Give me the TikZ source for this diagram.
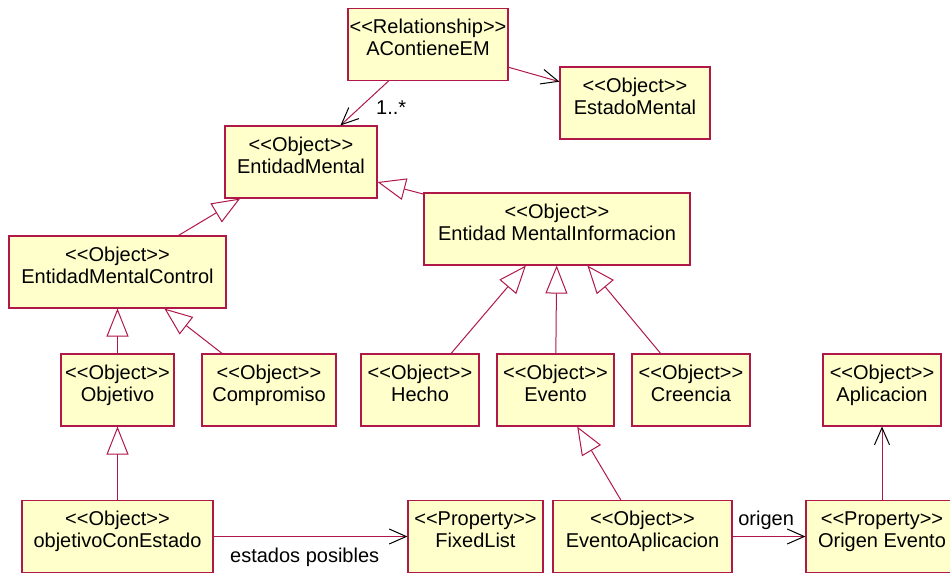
\documentclass[tikz,border=0pt]{standalone}
\usepackage{fontspec}
\setmainfont{Liberation Sans}
\usetikzlibrary{arrows.meta}

\definecolor{roseline}{RGB}{176,24,72}
\definecolor{rosefill}{RGB}{255,255,204}
\newcommand{\stereo}[1]{<\kern0pt<#1>\kern0pt>}

\tikzset{every picture/.style={line width=1pt}}
\tikzset{
  classbox/.style={draw=roseline, fill=rosefill, line width=1.1pt, align=center, inner sep=0pt,
    font=\fontsize{20}{22}\selectfont, text height=47pt, text depth=25pt},
  inherit/.style={draw=roseline, -{Triangle[length=28pt,width=22pt,fill=white]}},
  assoc/.style={draw=roseline, -{Straight Barb[length=17pt,width=15pt,color=black]}},
  rolelabel/.style={font=\fontsize{20}{22}\selectfont, inner sep=0pt}
}

\begin{document}
\begin{tikzpicture}[x=1pt,y=1pt,yscale=-1,xscale=1]
\useasboundingbox (0,0) rectangle (950,573);

% Boxes, top
\draw (428,44.5) node [classbox, minimum width=160] (acem) {\stereo{Relationship}\\AContieneEM};
\draw (635,103) node [classbox, minimum width=150] (estado) {\stereo{Object}\\EstadoMental};
\draw (301,162) node [classbox, minimum width=152] (em) {\stereo{Object}\\EntidadMental};
\draw (557,229) node [classbox, minimum width=266] (emi) {\stereo{Object}\\Entidad MentalInformacion};
\draw (117.5,272) node [classbox, minimum width=217] (emc) {\stereo{Object}\\EntidadMentalControl};

% Boxes, middle row
\draw (117.5,390) node [classbox, minimum width=113] (objetivo) {\stereo{Object}\\Objetivo};
\draw (269,390) node [classbox, minimum width=134] (compromiso) {\stereo{Object}\\Compromiso};
\draw (420,390) node [classbox, minimum width=118] (hecho) {\stereo{Object}\\Hecho};
\draw (555.5,390) node [classbox, minimum width=117] (evento) {\stereo{Object}\\Evento};
\draw (691,390) node [classbox, minimum width=118] (creencia) {\stereo{Object}\\Creencia};
\draw (882,390) node [classbox, minimum width=118] (aplicacion) {\stereo{Object}\\Aplicacion};

% Boxes, bottom row
\draw (117.5,536.5) node [classbox, minimum width=191] (oce) {\stereo{Object}\\objetivoConEstado};
\draw (475.5,536.5) node [classbox, minimum width=135] (fixed) {\stereo{Property}\\FixedList};
\draw (642.5,536.5) node [classbox, minimum width=179] (evapl) {\stereo{Object}\\EventoAplicacion};
\draw (882,536.5) node [classbox, minimum width=152] (origen) {\stereo{Property}\\Origen Evento};

% Associations
\draw [assoc] (acem) -- (estado);
\draw [assoc] (acem) -- node [rolelabel, pos=0.6, right=16pt] (mult) {1..*} (em);
\draw [assoc] (oce) -- node [rolelabel, pos=0.47, below=11pt] (estados) {estados posibles} (fixed);
\draw [assoc] (evapl) -- node [rolelabel, pos=0.46, above=6.5pt] (rol) {origen} (origen);
\draw [assoc] (origen) -- (aplicacion);

% Generalizations
\draw [inherit] (emi) -- (em);
\draw [inherit] (emc) -- (em);
\draw [inherit] (objetivo) -- (emc);
\draw [inherit] (compromiso) -- (emc);
\draw [inherit] (hecho) -- (emi);
\draw [inherit] (evento) -- (emi);
\draw [inherit] (creencia) -- (emi);
\draw [inherit] (oce) -- (objetivo);
\draw [inherit] (evapl) -- (evento);

\end{tikzpicture}
\end{document}
